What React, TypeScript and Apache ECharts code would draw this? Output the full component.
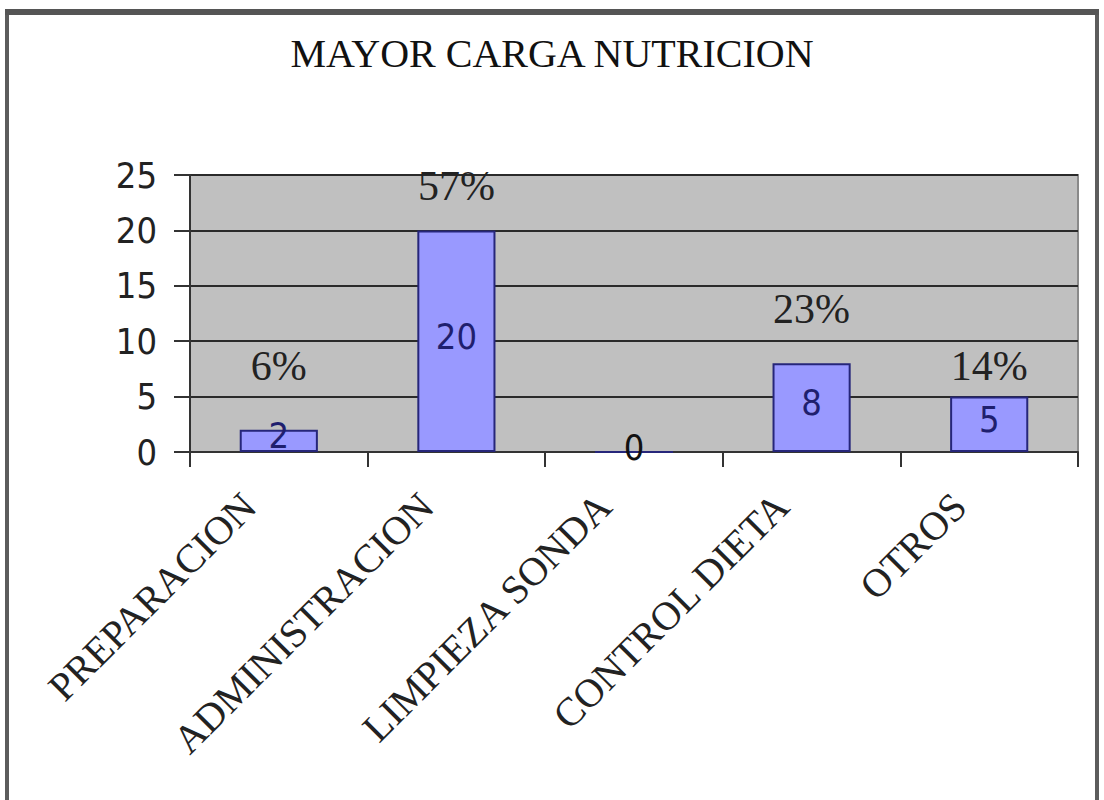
import React, { useEffect, useRef } from "react";
import * as echarts from "echarts";

const title = "MAYOR CARGA NUTRICION";
const categories = ["PREPARACION", "ADMINISTRACION", "LIMPIEZA SONDA", "CONTROL DIETA", "OTROS"];
const values = [2, 20, 0, 8, 5];
const percentLabels = ["6%", "57%", "", "23%", "14%"];
const yMin = 0;
const yMax = 25;
const yStep = 5;

// label lift above each bar (style only)
const pctLift = [43, 23, 0, 33, 10];

const SANS = "'DejaVu Sans Condensed', 'DejaVu Sans', sans-serif";
const SERIF = "'Liberation Serif', 'Times New Roman', serif";

export default function App() {
  const ref = useRef<HTMLDivElement>(null);
  useEffect(() => {
    document.body.style.margin = "0";
    if (!ref.current) return;
    const chart = echarts.init(ref.current, undefined, { renderer: "svg" });
    chart.setOption({
      animation: false,
      backgroundColor: "#ffffff",
      title: {
        text: title,
        left: "center",
        top: 28,
        textStyle: { fontFamily: SERIF, fontSize: 40, fontWeight: "normal", color: "#111" },
      },
      graphic: [
        {
          type: "rect",
          shape: { x: 7, y: 12, width: 1090, height: 830 },
          style: { fill: "none", stroke: "#5c5c5c", lineWidth: 4 },
          silent: true,
        },
        {
          type: "line",
          shape: { x1: 5, y1: 12, x2: 1099, y2: 12 },
          style: { stroke: "#555", lineWidth: 6 },
          silent: true,
        },
      ],
      grid: {
        left: 190,
        right: 26,
        top: 175,
        bottom: 348,
        show: true,
        backgroundColor: "#c0c0c0",
        borderColor: "#8a8a8a",
        borderWidth: 2,
      },
      xAxis: {
        type: "category",
        data: categories,
        boundaryGap: true,
        axisLine: { show: true, lineStyle: { color: "#333", width: 2 } },
        axisTick: { show: true, length: 15, alignWithLabel: false, lineStyle: { color: "#333", width: 2 } },
        axisLabel: {
          rotate: 45,
          interval: 0,
          margin: 18,
          padding: [0, 42, 0, 0],
          fontFamily: SERIF,
          fontSize: 40,
          color: "#222",
        },
      },
      yAxis: {
        type: "value",
        min: yMin,
        max: yMax,
        interval: yStep,
        axisLine: { show: true, lineStyle: { color: "#333", width: 2 } },
        axisTick: { show: true, length: 16, lineStyle: { color: "#333", width: 2 } },
        splitLine: { show: true, lineStyle: { color: "#2a2a2a", width: 2 } },
        axisLabel: { margin: 33, fontFamily: SANS, fontSize: 36, color: "#222" },
      },
      series: [
        {
          type: "bar",
          data: values.map((v) => ({
            value: v,
            label: { color: v === 0 ? "#111" : "#1f1f6e" },
          })),
          barWidth: "44%",
          itemStyle: { color: "#9999ff", borderColor: "#26267a", borderWidth: 2 },
          label: {
            show: true,
            position: "inside",
            offset: [0, -5],
            fontFamily: SANS,
            fontSize: 36,
            color: "#1f1f6e",
          },
          z: 3,
        },
        {
          type: "bar",
          data: values.map((v, i) => ({ value: v, label: { distance: pctLift[i] } })),
          barWidth: "44%",
          barGap: "-100%",
          silent: true,
          itemStyle: { color: "rgba(0,0,0,0)", borderWidth: 0 },
          label: {
            show: true,
            position: "top",
            fontFamily: SERIF,
            fontSize: 42,
            color: "#222",
            formatter: (p: any) => percentLabels[p.dataIndex],
          },
          z: 4,
        },
      ],
    });
    return () => chart.dispose();
  }, []);
  return <div ref={ref} style={{ width: 1104, height: 800 }} />;
}
